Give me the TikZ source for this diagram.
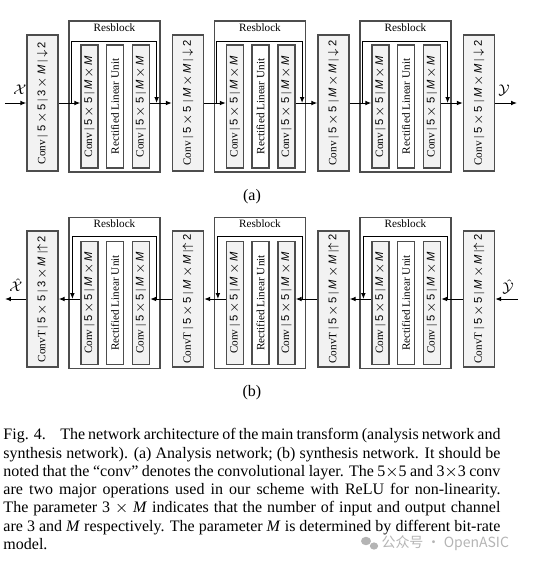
\documentclass[tikz,border=0pt]{standalone}
\usepackage{fontspec}
\setmainfont{Liberation Serif}
\setsansfont{Liberation Sans}
\newfontfamily\cjk{Noto Sans CJK SC}
\usetikzlibrary{arrows.meta,calc}
\definecolor{boxfill}{HTML}{F2F2F2}
\definecolor{boxline}{HTML}{4D4D4D}
\definecolor{wmgray}{HTML}{B4B4B4}
\newcommand{\boxfont}{\fontsize{5.6}{6}\selectfont}
\newcommand{\kfive}{\textsf{5\,$\times$\,5}}
\newcommand{\mxm}{\textsf{\textit{M}\,$\times$\,\textit{M}}}
\begin{document}
\begin{tikzpicture}[x=0.5pt,y=-0.5pt,>={Latex[length=3pt,width=2.4pt]},line width=0.5pt,
	layer/.style={draw=boxline,fill=boxfill,line width=0.7pt,minimum width=15.5pt,minimum height=68pt,inner sep=0pt,
		label={[rotate=90,font=\boxfont,inner sep=0pt]center:#1}},
	inner/.style={layer=#1,minimum width=8.5pt,minimum height=61.5pt},
	resblk/.style={draw=boxline,line width=0.6pt,minimum width=45.5pt,minimum height=75.5pt,inner sep=0pt},
	tag/.style={font=\boxfont,inner sep=0pt,anchor=base},
	sym/.style={font=\fontsize{7.5}{8}\selectfont,inner sep=0pt}]
	\useasboundingbox (0,0) rectangle (545,564);
	% (a) analysis network
	\node[layer={Conv | \kfive\ | \textsf{3\,$\times$\,\textit{M}} | \textsf{$\downarrow$\,2}}] (c1) at (42.5,103) {};
	\node[layer={Conv | \kfive\ | \mxm\ | \textsf{$\downarrow$\,2}}] (c2) at (188,103) {};
	\node[layer={Conv | \kfive\ | \mxm\ | \textsf{$\downarrow$\,2}}] (c3) at (333.5,103) {};
	\node[layer={Conv | \kfive\ | \mxm\ | \textsf{$\downarrow$\,2}}] (c4) at (479,103) {};
	\foreach \i/\x in {1/114.5,2/260,3/405.5}{
		\node[resblk] (r\i) at (\x,96.5) {};
		\node[tag] (t\i) at ($(r\i.north)+(0,11)$) {Resblock};
		\node[inner={Conv | \kfive\ | \mxm}] (p\i) at (\x-25,106.5) {};
		\node[inner={Rectified Linear Unit},fill=white] (u\i) at (\x+0.5,106.5) {};
		\node[inner={Conv | \kfive\ | \mxm}] (q\i) at (\x+26.5,106.5) {};
	}
	\coordinate (xin) at (5,103);
	\coordinate (yout) at (517,103);
	\draw[->] (xin) -- (c1.west);
	\foreach \i/\j in {1/2,2/3,3/4}{
		\draw[->] (c\i.east) -- (c\i.east -| p\i.west);
		\draw[->] ($(r\i.west |- c\i.east)+(3,0)$) |- ($(r\i.north east)+(-4,21)$) -- ($(r\i.east |- c\i.east)+(-4,0)$);
		\draw[->] (q\i.east |- c\i.east) -- (c\j.west);
	}
	\draw[->] (c4.east) -- (yout);
	\node[sym] (lx) at (20,90) {$\mathcal{X}$};
	\node[sym] (ly) at (504,90) {$\mathcal{Y}$};
	\node[font=\fontsize{8}{9}\selectfont] (sa) at (252,197) {(a)};
	% (b) synthesis network
	\node[layer={ConvT | \kfive\ | \textsf{3\,$\times$\,\textit{M}} |\textsf{$\uparrow$\,2}}] (d1) at (42.5,299) {};
	\node[layer={ConvT | \kfive\ | \mxm\ |\textsf{$\uparrow$\,2}}] (d2) at (188,299) {};
	\node[layer={ConvT | \kfive\ | \mxm\ |\textsf{$\uparrow$\,2}}] (d3) at (333.5,299) {};
	\node[layer={ConvT | \kfive\ | \mxm\ |\textsf{$\uparrow$\,2}}] (d4) at (479,299) {};
	\foreach \i/\x in {1/114.5,2/260,3/405.5}{
		\node[resblk] (R\i) at (\x,293) {};
		\node[tag] (T\i) at ($(R\i.north)+(0,11)$) {Resblock};
		\node[inner={Conv | \kfive\ | \mxm}] (P\i) at (\x-25,303) {};
		\node[inner={Rectified Linear Unit},fill=white] (U\i) at (\x+0.5,303) {};
		\node[inner={Conv | \kfive\ | \mxm}] (Q\i) at (\x+26.5,303) {};
	}
	\coordinate (yin) at (518,299);
	\coordinate (xout) at (5,299);
	\draw[->] (yin) -- (d4.east);
	\foreach \i/\j in {1/2,2/3,3/4}{
		\draw[->] (d\j.west) -- (d\j.west -| Q\i.east);
		\draw[->] ($(R\i.east |- d\i.east)+(-4,0)$) |- ($(R\i.north west)+(4,20)$) -- ($(R\i.west |- d\i.east)+(4,0)$);
		\draw[->] (P\i.west |- d\i.east) -- (d\i.east);
	}
	\draw[->] (d1.west) -- (xout);
	\node[sym] (lxh) at (16,285) {$\hat{\mathcal{X}}$};
	\node[sym] (lyh) at (508,287) {$\hat{\mathcal{Y}}$};
	\node[font=\fontsize{8}{9}\selectfont] (sb) at (252,393) {(b)};
	% caption
	\node[anchor=north west,text width=248.5pt,align=justify,inner sep=0pt,font=\fontsize{8}{9.15}\selectfont] (cap) at (3,428)
		{Fig. 4.\hspace{0.9em}The network architecture of the main transform (analysis network and\linebreak
		synthesis network). (a) Analysis network; (b) synthesis network. It should be\linebreak
		noted that the “conv” denotes the convolutional layer. The 5$\times$5 and 3$\times$3 conv\linebreak
		are two major operations used in our scheme with ReLU for non-linearity.\linebreak
		The parameter 3 $\times$ \textit{M} indicates that the number of input and output channel\linebreak
		are 3 and \textit{M} respectively. The parameter \textit{M} is determined by different bit-rate\linebreak
		model.};
	% watermark
	\fill[wmgray] (366,541) ellipse (5 and 4.2);
	\fill[wmgray] (374,546) ellipse (4.2 and 3.6);
	\node[anchor=west,inner sep=0pt,text=wmgray,font=\cjk\fontsize{7}{8}\selectfont] (wm) at (381,543) {公众号 · OpenASIC};
\end{tikzpicture}
\end{document}
